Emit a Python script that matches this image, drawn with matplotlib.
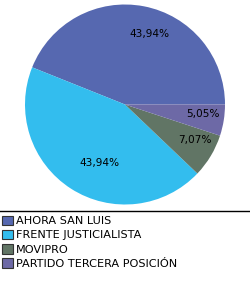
import matplotlib
matplotlib.use("Agg")
import matplotlib.pyplot as plt
from matplotlib.patches import Patch
from matplotlib.lines import Line2D

# ================================ DATA ================================
parties = ["AHORA SAN LUIS", "FRENTE JUSTICIALISTA", "MOVIPRO", "PARTIDO TERCERA POSICIÓN"]
shares = [43.94, 43.94, 7.07, 5.05]
colors = ["#5668B0", "#33BDEE", "#617565", "#6D69A6"]

W, H = 250, 285
DPI = 100

fig = plt.figure(figsize=(W / DPI, H / DPI), dpi=DPI)
fig.patch.set_facecolor("white")

# pie area: center (125, 104.5) px, radius 100 px
cx, cy, r = 125, 104.5, 100
ax = fig.add_axes([(cx - r) / W, (H - cy - r) / H, 2 * r / W, 2 * r / H])

wedges, _, pct_texts = ax.pie(
    shares, colors=colors, startangle=0, counterclock=True,
    autopct=lambda p: f"{p:.2f}%".replace(".", ","),
    pctdistance=0.76, radius=1.0,
    wedgeprops=dict(linewidth=0),
    textprops=dict(fontsize=7.6, color="black"))

# label placement as in the original chart (in pie radius units)
label_pos = [(0.25, 0.70), (-0.25, -0.585), (0.70, -0.355), (0.78, -0.095)]
for t, pos in zip(pct_texts, label_pos):
    t.set_position(pos)

ax.set_xlim(-1, 1)
ax.set_ylim(-1, 1)
ax.set_aspect("equal")
ax.axis("off")

# separator line above the legend
y_line = 1 - 210.5 / H
fig.add_artist(Line2D([0, 1], [y_line, y_line], color="black", linewidth=1.0,
                      transform=fig.transFigure))

# legend
handles = [Patch(facecolor=c, edgecolor="#333333", linewidth=0.8, label=p)
           for p, c in zip(parties, colors)]
fig.legend(handles=handles, loc="upper left", bbox_to_anchor=(0.004, 1 - 214.5 / H),
           frameon=False, fontsize=8.1, handlelength=0.95, handleheight=0.95,
           handletextpad=0.3, labelspacing=0.3, borderaxespad=0, borderpad=0.1)

fig.savefig("out.png", dpi=DPI, facecolor="white")
